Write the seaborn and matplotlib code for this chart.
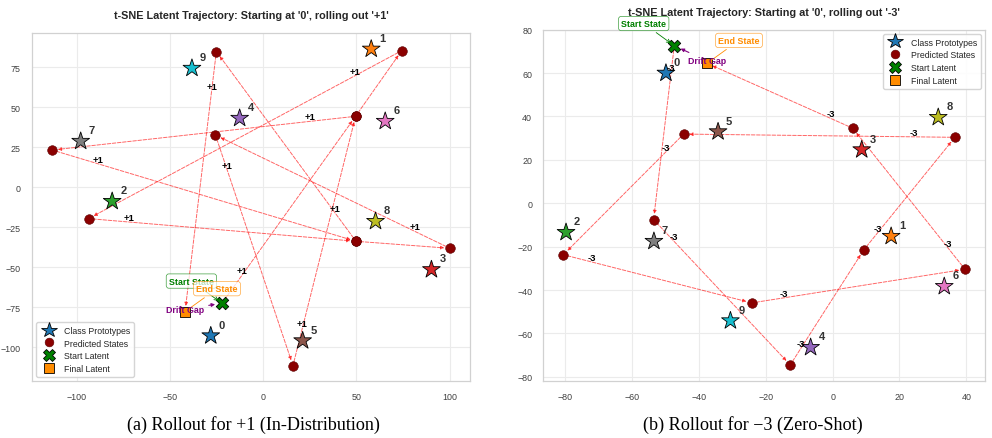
import numpy as np
import matplotlib
matplotlib.use('Agg')
import matplotlib.pyplot as plt
from matplotlib.lines import Line2D
import seaborn as sns
import pandas as pd

# class prototype positions (digits 0-9) in t-SNE space
digits = [str(d) for d in range(10)]
left_proto_x = [-28.1, 58.0, -81.0, 90.3, -12.6, 21.2, 65.5, -97.9, 60.3, -38.2]
left_proto_y = [-92.9, 86.5, -8.8, -51.5, 43.2, -96.0, 41.3, 28.8, -21.3, 74.5]
right_proto_x = [-49.9, 17.5, -79.8, 8.7, -6.6, -34.3, 33.4, -53.5, 31.6, -30.6]
right_proto_y = [60.0, -15.2, -13.4, 24.7, -66.4, 33.0, -38.3, -17.5, 39.6, -54.1]

# rollout: start latent, predicted states in order, final latent
left_start = [-22.1, -72.6]
left_pred_x = [49.6, 74.4, -93.7, 49.8, 100.2, -25.6, 16.0, 49.6, -113.2, 49.8, -25.1]
left_pred_y = [44.4, 85.5, -19.6, -33.8, -38.2, 32.7, -111.6, 44.4, 23.3, -33.8, 84.9]
left_final = [-41.9, -77.8]
left_step_labels = ['+1', '', '+1', '+1', '', '+1', '+1', '+1', '+1', '+1', '+1', '+1']

right_start = [-47.4, 72.6]
right_pred_x = [-53.6, -12.7, 9.3, 36.6, -44.6, -80.6, -24.2, 39.6, 6.0]
right_pred_y = [-7.5, -74.5, -21.5, 30.4, 31.9, -23.7, -45.9, -30.4, 34.6]
right_final = [-37.6, 64.5]
right_step_labels = ['-3'] * 10

SANS = 'Liberation Sans'


def draw_panel(ax, proto_x, proto_y, start, pred_x, pred_y, final, step_labels, op, legend_loc):
    protos = pd.DataFrame({'x': proto_x, 'y': proto_y, 'digit': digits})
    preds = pd.DataFrame({'x': pred_x, 'y': pred_y})

    sns.scatterplot(data=protos, x='x', y='y', hue='digit', palette='tab10', marker='*',
                    s=180, edgecolor='black', linewidth=0.6, legend=False, zorder=5, ax=ax)
    for _, row in protos.iterrows():
        ax.annotate(row['digit'], (row['x'], row['y']), xytext=(8, 8), textcoords='offset points',
                    ha='center', va='center', fontsize=8, fontweight='bold', color='.2',
                    family=SANS, zorder=6)

    sns.scatterplot(data=preds, x='x', y='y', color='#8B0000', s=48, edgecolor='#5a0000',
                    linewidth=0.4, legend=False, zorder=4, ax=ax)

    path_x = [start[0]] + list(pred_x) + [final[0]]
    path_y = [start[1]] + list(pred_y) + [final[1]]
    for i in range(len(path_x) - 1):
        x0, y0, x1, y1 = path_x[i], path_y[i], path_x[i + 1], path_y[i + 1]
        ax.annotate('', xy=(x1, y1), xytext=(x0, y0),
                    arrowprops=dict(arrowstyle='-|>', color='red', alpha=0.6, lw=0.7,
                                    linestyle='--', mutation_scale=5, shrinkA=3, shrinkB=4),
                    zorder=3)
        if step_labels[i]:
            ax.text(x0 + 0.15 * (x1 - x0), y0 + 0.15 * (y1 - y0), step_labels[i],
                    ha='center', va='bottom', fontsize=6.8, fontweight='bold', color='black',
                    family=SANS, zorder=6)

    ax.scatter(start[0], start[1], marker='X', s=80, color='green', edgecolor='black',
               linewidth=0.6, zorder=7)
    ax.scatter(final[0], final[1], marker='s', s=62, color='darkorange', edgecolor='black',
               linewidth=0.6, zorder=7)

    ax.annotate('Start State', xy=(start[0], start[1]), xytext=(-22, 16), textcoords='offset points',
                ha='center', va='center', fontsize=6.4, fontweight='bold', color='green', family=SANS,
                bbox=dict(boxstyle='round,pad=0.3', fc='white', ec='green', alpha=0.75, lw=0.5),
                arrowprops=dict(arrowstyle='->', color='green', lw=0.6, shrinkB=3), zorder=8)
    ax.annotate('End State', xy=(final[0], final[1]), xytext=(23, 16.5), textcoords='offset points',
                ha='center', va='center', fontsize=6.4, fontweight='bold', color='darkorange', family=SANS,
                bbox=dict(boxstyle='round,pad=0.3', fc='white', ec='darkorange', alpha=0.75, lw=0.5),
                arrowprops=dict(arrowstyle='-', color='darkorange', lw=0.6, shrinkB=3), zorder=8)
    ax.annotate('Drift Gap', xy=(start[0], start[1]), xytext=(final[0], final[1]),
                ha='center', fontsize=6.4, fontweight='bold', color='purple', family=SANS,
                arrowprops=dict(arrowstyle='-|>', color='purple', lw=0.8, mutation_scale=5,
                                shrinkA=1, shrinkB=5), zorder=8)

    ax.set_title(f"t-SNE Latent Trajectory: Starting at '0', rolling out '{op}'",
                 fontsize=7.8, fontweight='bold', color='.15', family=SANS, pad=10.6)
    ax.set_xlabel('')
    ax.set_ylabel('')
    ax.tick_params(labelsize=6.4, colors='.25', pad=2)
    ax.grid(True, color='.92', lw=0.8)
    for sp in ax.spines.values():
        sp.set_color('.82')
        sp.set_linewidth(0.9)

    handles = [
        Line2D([], [], ls='', marker='*', ms=11.5, mfc='tab:blue', mec='black', mew=0.6),
        Line2D([], [], ls='', marker='o', ms=6.3, mfc='#8B0000', mec='#5a0000', mew=0.4),
        Line2D([], [], ls='', marker='X', ms=8.3, mfc='green', mec='black', mew=0.6),
        Line2D([], [], ls='', marker='s', ms=7.8, mfc='darkorange', mec='black', mew=0.6),
    ]
    names = ['Class Prototypes', 'Predicted States', 'Start Latent', 'Final Latent']
    ax.legend(handles, names, loc=legend_loc, prop={'family': SANS, 'size': 6.3},
              frameon=True, framealpha=0.9, edgecolor='.82', borderpad=0.4,
              labelspacing=0.45, handletextpad=0.8, borderaxespad=0.5)


sns.set_theme(style='whitegrid')
plt.rcParams['font.family'] = [SANS, 'DejaVu Sans']

fig = plt.figure(figsize=(9.92, 4.39), dpi=100)
ax1 = fig.add_axes([0.0323, 0.1292, 0.4415, 0.794])
ax2 = fig.add_axes([0.5477, 0.1298, 0.4456, 0.8003])

draw_panel(ax1, left_proto_x, left_proto_y, left_start, left_pred_x, left_pred_y, left_final,
           left_step_labels, '+1', 'lower left')
ax1.set_xlim(-124, 111)
ax1.set_ylim(-121.4, 96.7)
ax1.set_xticks([-100, -50, 0, 50, 100])
ax1.set_yticks([-100, -75, -50, -25, 0, 25, 50, 75])

draw_panel(ax2, right_proto_x, right_proto_y, right_start, right_pred_x, right_pred_y, right_final,
           right_step_labels, '-3', 'upper right')
ax2.set_xlim(-86.6, 45.7)
ax2.set_ylim(-81.9, 80.0)
ax2.set_xticks([-80, -60, -40, -20, 0, 20, 40])
ax2.set_yticks([-80, -60, -40, -20, 0, 20, 40, 60, 80])

for ax in (ax1, ax2):
    for lab in ax.get_xticklabels() + ax.get_yticklabels():
        lab.set_family(SANS)

fig.text(0.2550, 0.032, '(a) Rollout for +1 (In-Distribution)', ha='center', va='center',
         family='Liberation Serif', fontsize=13.1, color='black')
fig.text(0.7588, 0.032, '(b) Rollout for \u22123 (Zero-Shot)', ha='center', va='center',
         family='Liberation Serif', fontsize=13.1, color='black')

fig.savefig('out.png', dpi=100)
